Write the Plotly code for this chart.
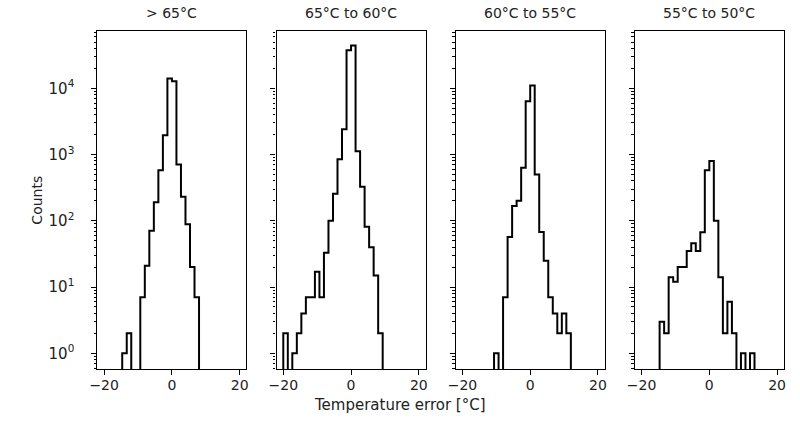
import numpy as np
import plotly.graph_objects as go

# ---- data ----
bin_edges = np.linspace(-20, 20, 31)  # 30 bins of width 4/3
panel_titles = ["> 65°C", "65°C to 60°C", "60°C to 55°C", "55°C to 50°C"]
counts_gt65 = [0, 0, 0, 0, 1, 2, 0, 0, 7, 21, 71, 190, 580, 1960, 14000, 12800,
               710, 230, 89, 20, 7, 0, 0, 0, 0, 0, 0, 0, 0, 0]
counts_65_60 = [2, 0, 1, 2, 4, 7, 7, 17, 7, 33, 100, 255, 850, 2400, 37600, 44200,
                1120, 326, 81, 40, 15, 2, 0, 0, 0, 0, 0, 0, 0, 0]
counts_60_55 = [0, 0, 0, 0, 0, 0, 0, 1, 0, 7, 57, 167, 200, 630, 6400, 11000,
                500, 68, 25, 7, 4, 2, 4, 2, 0, 0, 0, 0, 0, 0]
counts_55_50 = [0, 0, 0, 0, 3, 2, 14, 12, 20, 20, 35, 46, 35, 67, 580, 800,
                100, 14, 2, 6, 2, 0, 1, 0, 1, 0, 0, 0, 0, 0]
all_counts = [counts_gt65, counts_65_60, counts_60_55, counts_55_50]
x_ticks = [-20, 0, 20]
y_tick_vals = [1, 10, 100, 1000, 10000]
y_tick_text = ["10<sup>0</sup>", "10<sup>1</sup>", "10<sup>2</sup>", "10<sup>3</sup>", "10<sup>4</sup>"]

# ---- layout geometry ----
W, H = 800, 442
px_left = [90.5, 271.9, 453.3, 634.7]
px_w = 151.0
top_px, bot_px = 31, 369
FONT = "DejaVu Sans"

fig = go.Figure()
FLOOR = 1e-3  # below axis range -> clipped, like matplotlib's log clipping

for i, cnt in enumerate(all_counts):
    xs = [bin_edges[0]] + list(bin_edges[:-1]) + [bin_edges[-1]]
    ys = [FLOOR] + [c if c > 0 else FLOOR for c in cnt] + [FLOOR]
    sfx = "" if i == 0 else str(i + 1)
    fig.add_trace(go.Scatter(x=xs, y=ys, mode="lines", line=dict(color="black", width=2, shape="hv"),
                             xaxis="x" + sfx, yaxis="y" + sfx, showlegend=False, hoverinfo="skip"))

minor_vals = [m * 10 ** d for d in range(-1, 5) for m in range(2, 10)]

layout = dict(width=W, height=H, margin=dict(l=0, r=0, t=0, b=0),
              paper_bgcolor="white", plot_bgcolor="white",
              font=dict(family=FONT, size=14, color="black"), showlegend=False)
annotations = []
for i in range(4):
    sfx = "" if i == 0 else str(i + 1)
    x0 = px_left[i] / W
    x1 = (px_left[i] + px_w) / W
    layout["xaxis" + sfx] = dict(domain=[x0, x1], anchor="y" + sfx, range=[-22, 22],
                                 tickmode="array", tickvals=x_ticks, ticklabelstandoff=-2,
                                 ticks="outside", ticklen=5, tickwidth=1.1, tickcolor="black",
                                 showline=True, linecolor="black", linewidth=1.1, mirror=True,
                                 showgrid=False, zeroline=False,
                                 tickfont=dict(family=FONT, size=14, color="#222"))
    layout["yaxis" + sfx] = dict(domain=[1 - bot_px / H, 1 - top_px / H], anchor="x" + sfx,
                                 type="log", range=[-0.237, 4.865],
                                 tickmode="array", tickvals=y_tick_vals,
                                 ticktext=y_tick_text if i == 0 else [""] * 5,
                                 showticklabels=(i == 0), ticklabelstandoff=14,
                                 ticks="outside", ticklen=5, tickwidth=1.1, tickcolor="black",
                                 minor=dict(tickmode="array", tickvals=minor_vals, ticks="outside",
                                            ticklen=2.8, tickwidth=0.8, tickcolor="black", showgrid=False),
                                 showline=True, linecolor="black", linewidth=1.1, mirror=True,
                                 showgrid=False, zeroline=False,
                                 tickfont=dict(family=FONT, size=15, color="#222"))
    annotations.append(dict(text=panel_titles[i], x=(x0 + x1) / 2, y=1 - 23 / H,
                            xref="paper", yref="paper", xanchor="center", yanchor="bottom",
                            showarrow=False, font=dict(family=FONT, size=14, color="#222")))

annotations.append(dict(text="Temperature error [°C]", x=0.496, y=1 - 405 / H, xref="paper", yref="paper",
                        xanchor="center", yanchor="middle", showarrow=False,
                        font=dict(family=FONT, size=15, color="#222")))
annotations.append(dict(text="Counts", x=29 / W, y=1 - 200 / H, xref="paper", yref="paper",
                        xanchor="center", yanchor="middle", textangle=-90, showarrow=False,
                        font=dict(family=FONT, size=14, color="#222")))
layout["annotations"] = annotations
fig.update_layout(**layout)
fig.write_html("out.html")
